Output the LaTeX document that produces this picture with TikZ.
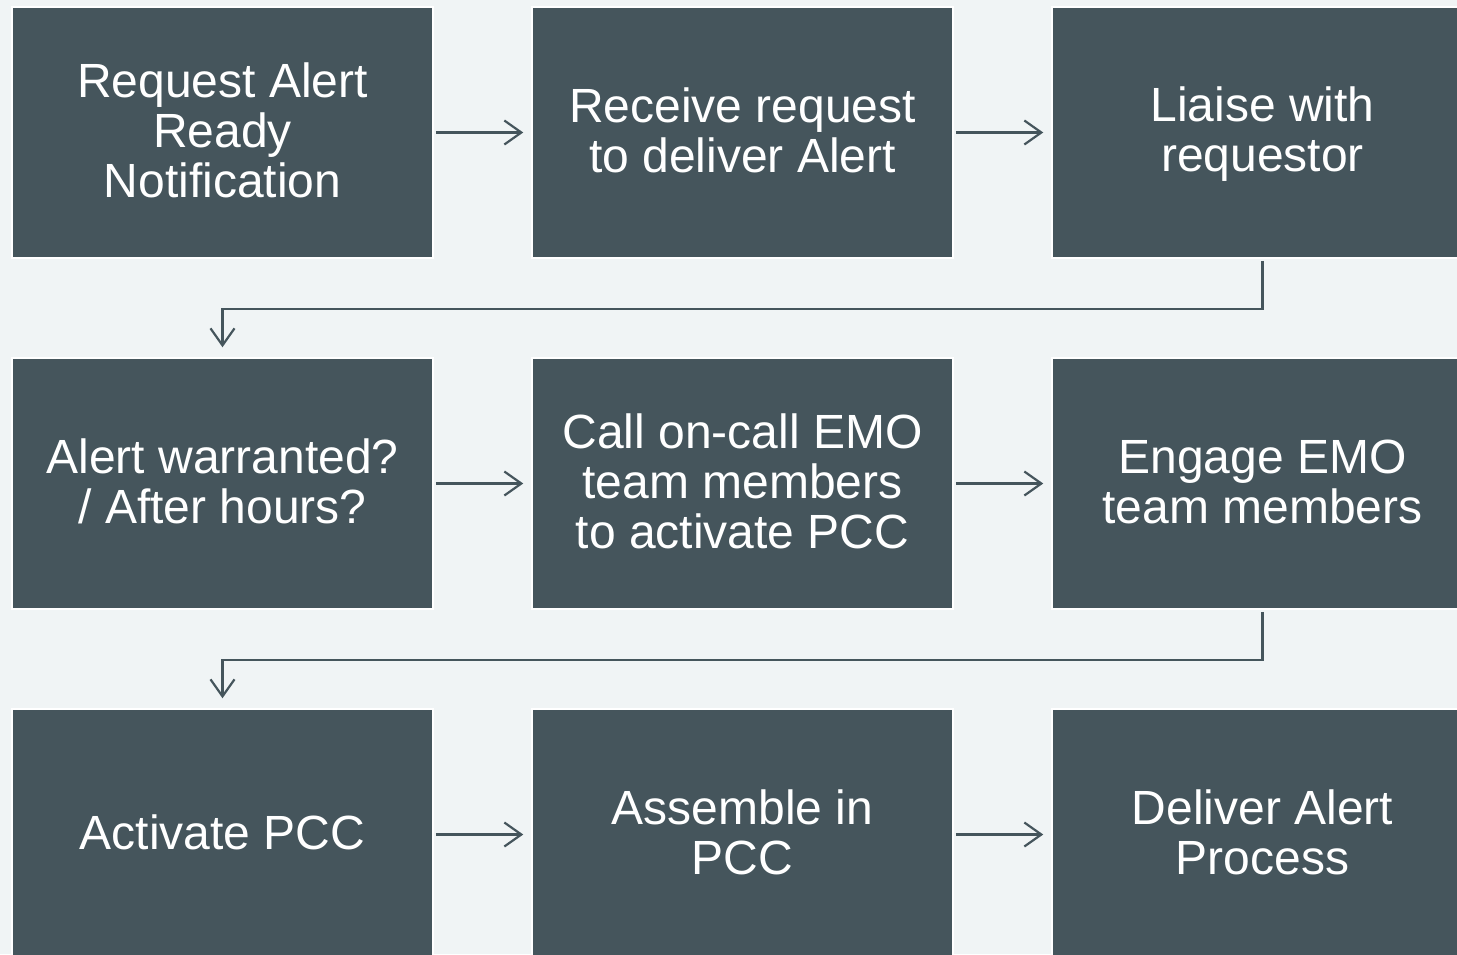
\documentclass[tikz,border=0pt]{standalone}
\usepackage{fontspec}
\setmainfont{Liberation Sans}
\usetikzlibrary{arrows.meta}
\definecolor{slate}{HTML}{45555C}
\definecolor{paper}{HTML}{F0F4F5}
% strut that gives every text line the same height and depth
\newcommand{\lnstrut}{\rule[-9pt]{0pt}{47pt}}
\tikzset{
  x=1pt, y=1pt,
  stepbox/.style={rectangle, fill=slate, draw=white, line width=1.5pt,
    minimum width=421pt, minimum height=251pt, inner sep=0pt,
    text=white, align=center, font=\fontsize{48}{50}\selectfont},
  flow/.style={draw=slate, line width=2.2pt,
    -{Straight Barb[length=17pt, width=24pt, line width=2.2pt]}},
}
\begin{document}
\begin{tikzpicture}
  \fill[paper] (0,0) rectangle (1457,-954);
  \useasboundingbox (0,0) rectangle (1457,-954);
  \begin{scope}
  \clip (0,0) rectangle (1457,-954);
  % first row
  \node[stepbox] (b1) at (222.5,-132.5) {\lnstrut Request Alert\\\lnstrut Ready\\\lnstrut Notification};
  \node[stepbox] (b2) at (742.5,-132.5) {\lnstrut Receive request\\\lnstrut to deliver Alert};
  \node[stepbox] (b3) at (1262.5,-132.5) {\lnstrut Liaise with\\\lnstrut requestor};
  % second row
  \node[stepbox] (b4) at (222.5,-483.5) {\lnstrut Alert warranted?\\\lnstrut / After hours?};
  \node[stepbox] (b5) at (742.5,-483.5) {\lnstrut Call on-call EMO\\\lnstrut team members\\\lnstrut to activate PCC};
  \node[stepbox] (b6) at (1262.5,-483.5) {\lnstrut Engage EMO\\\lnstrut team members};
  % third row
  \node[stepbox] (b7) at (222.5,-834.5) {\lnstrut Activate PCC};
  \node[stepbox] (b8) at (742.5,-834.5) {\lnstrut Assemble in\\\lnstrut PCC};
  \node[stepbox] (b9) at (1262.5,-834.5) {\lnstrut Deliver Alert\\\lnstrut Process};
  \end{scope}
  % horizontal connectors
  \foreach \a/\b in {b1/b2, b2/b3, b4/b5, b5/b6, b7/b8, b8/b9}
    \draw[flow, shorten <=2pt, shorten >=8pt] (\a) -- (\b);
  % row-to-row elbows
  \draw[flow, shorten <=2pt, shorten >=10pt] (b3.south) -- ++(0,-50) -| (b4.north);
  \draw[flow, shorten <=2pt, shorten >=10pt] (b6.south) -- ++(0,-50) -| (b7.north);
\end{tikzpicture}
\end{document}
